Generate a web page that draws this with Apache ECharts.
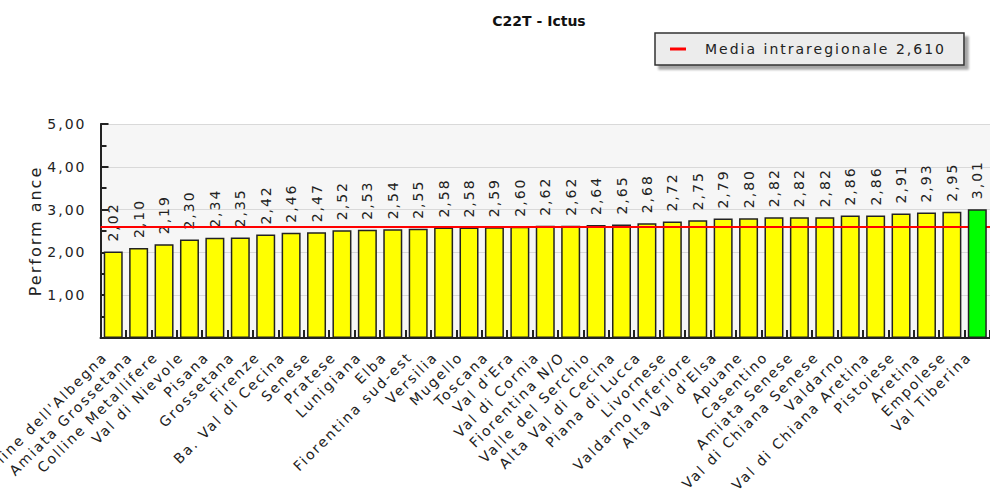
<!DOCTYPE html>
<html>
<head>
<meta charset="utf-8">
<script src="https://cdn.jsdelivr.net/npm/echarts@6/dist/echarts.min.js"></script>
<style>
html,body{margin:0;padding:0;background:#fff}
#c{width:990px;height:492px}
#c svg text{letter-spacing:2px}
#c svg text[style*="bold"]{letter-spacing:0}
</style>
</head>
<body>
<div id="c"></div>
<script>
const categories = ["Colline dell'Albegna","Amiata Grossetana","Colline Metallifere","Val di Nievole","Pisana","Grossetana","Firenze","Ba. Val di Cecina","Senese","Pratese","Lunigiana","Elba","Fiorentina sud-est","Versilia","Mugello","Toscana","Val d'Era","Val di Cornia","Fiorentina N/O","Valle del Serchio","Alta Val di Cecina","Piana di Lucca","Livornese","Valdarno Inferiore","Alta Val d'Elsa","Apuane","Casentino","Amiata Senese","Val di Chiana Senese","Valdarno","Val di Chiana Aretina","Pistoiese","Aretina","Empolese","Val Tiberina"];
const values = [2.02,2.10,2.19,2.30,2.34,2.35,2.42,2.46,2.47,2.52,2.53,2.54,2.55,2.58,2.58,2.59,2.60,2.62,2.62,2.64,2.65,2.68,2.72,2.75,2.79,2.80,2.82,2.82,2.82,2.86,2.86,2.91,2.93,2.95,3.01];
const highlighted = "Val Tiberina";
const media = 2.61;
const mediaName = "Media intraregionale 2,610";
const chartTitle = "C22T - Ictus";
const yAxisName = "Perform ance";
const yTicks = [0, 1, 2, 3, 4, 5];

const fmt = v => v.toFixed(2).replace('.', ',');
const yellowData = values.map((v, i) => categories[i] === highlighted ? null : v);
const greenData = values.map((v, i) => categories[i] === highlighted ? v : null);
const FONT = 'DejaVu Sans';

const valueLabel = {
  show: true, position: 'top', distance: 10, rotate: 90,
  align: 'left', verticalAlign: 'middle',
  fontFamily: FONT, fontSize: 14, color: '#222',
  formatter: p => fmt(p.value)
};

const chart = echarts.init(document.getElementById('c'), null, {renderer: 'svg'});
chart.setOption({
  animation: false,
  backgroundColor: '#ffffff',
  title: {
    text: chartTitle, left: 534, top: 9, textAlign: 'center',
    textStyle: {fontFamily: FONT, fontSize: 14, fontWeight: 'bold', color: '#111'}
  },
  legend: {
    left: 655, top: 33,
    data: [mediaName],
    icon: 'rect', itemWidth: 16, itemHeight: 3,
    padding: [9, 70, 9, 15],
    backgroundColor: '#ececec', borderColor: '#333', borderWidth: 1.5,
    shadowColor: 'rgba(0,0,0,0.35)', shadowBlur: 2, shadowOffsetX: 4, shadowOffsetY: 4,
    textStyle: {fontFamily: FONT, fontSize: 14, color: '#222', padding: [0, 0, 0, 14]}
  },
  grid: {
    left: 99, top: 124, width: 902, height: 214,
    show: true, backgroundColor: '#f6f6f6', borderWidth: 0
  },
  xAxis: {
    type: 'category', data: categories,
    axisLine: {lineStyle: {color: '#222', width: 2}},
    axisTick: {show: true, inside: true, length: 8, alignWithLabel: false, lineStyle: {color: '#222', width: 2}},
    axisLabel: {interval: 0, rotate: 45, margin: 8, padding: [0, 12, 0, 0],
      fontFamily: FONT, fontSize: 14, color: '#222'},
    splitLine: {show: false}
  },
  yAxis: {
    type: 'value', min: yTicks[0], max: yTicks[yTicks.length - 1], interval: 1,
    name: yAxisName, nameLocation: 'middle', nameRotate: 90, nameGap: 57,
    nameTextStyle: {fontFamily: FONT, fontSize: 16, color: '#222'},
    axisLine: {show: true, lineStyle: {color: '#222', width: 2}},
    axisTick: {show: true, inside: true, length: 8, lineStyle: {color: '#222', width: 2}},
    minorTick: {show: true, splitNumber: 2, length: 6, lineStyle: {color: '#222', width: 2}},
    axisLabel: {margin: 14, fontFamily: FONT, fontSize: 14, color: '#222',
      formatter: v => v === 0 ? '' : fmt(v)},
    splitLine: {show: true, lineStyle: {color: '#d9d9d9', width: 1}}
  },
  series: [
    {
      name: 'values', type: 'bar', data: yellowData, barWidth: 19, barGap: '-100%',
      itemStyle: {color: '#ffff00', borderColor: '#222', borderWidth: 1.5},
      label: valueLabel, z: 2
    },
    {
      name: mediaName, type: 'line', data: [],
      itemStyle: {color: '#ff0000'}, lineStyle: {color: '#ff0000'},
      markLine: {
        silent: true, symbol: 'none', label: {show: false},
        lineStyle: {color: '#ff0000', width: 2, type: 'solid'},
        data: [{yAxis: media}]
      }
    },
    {
      name: 'highlight', type: 'bar', data: greenData, barWidth: 19, barGap: '-100%',
      itemStyle: {color: '#00ff00', borderColor: '#222', borderWidth: 1.5},
      label: valueLabel, z: 6
    }
  ]
});
</script>
</body>
</html>
